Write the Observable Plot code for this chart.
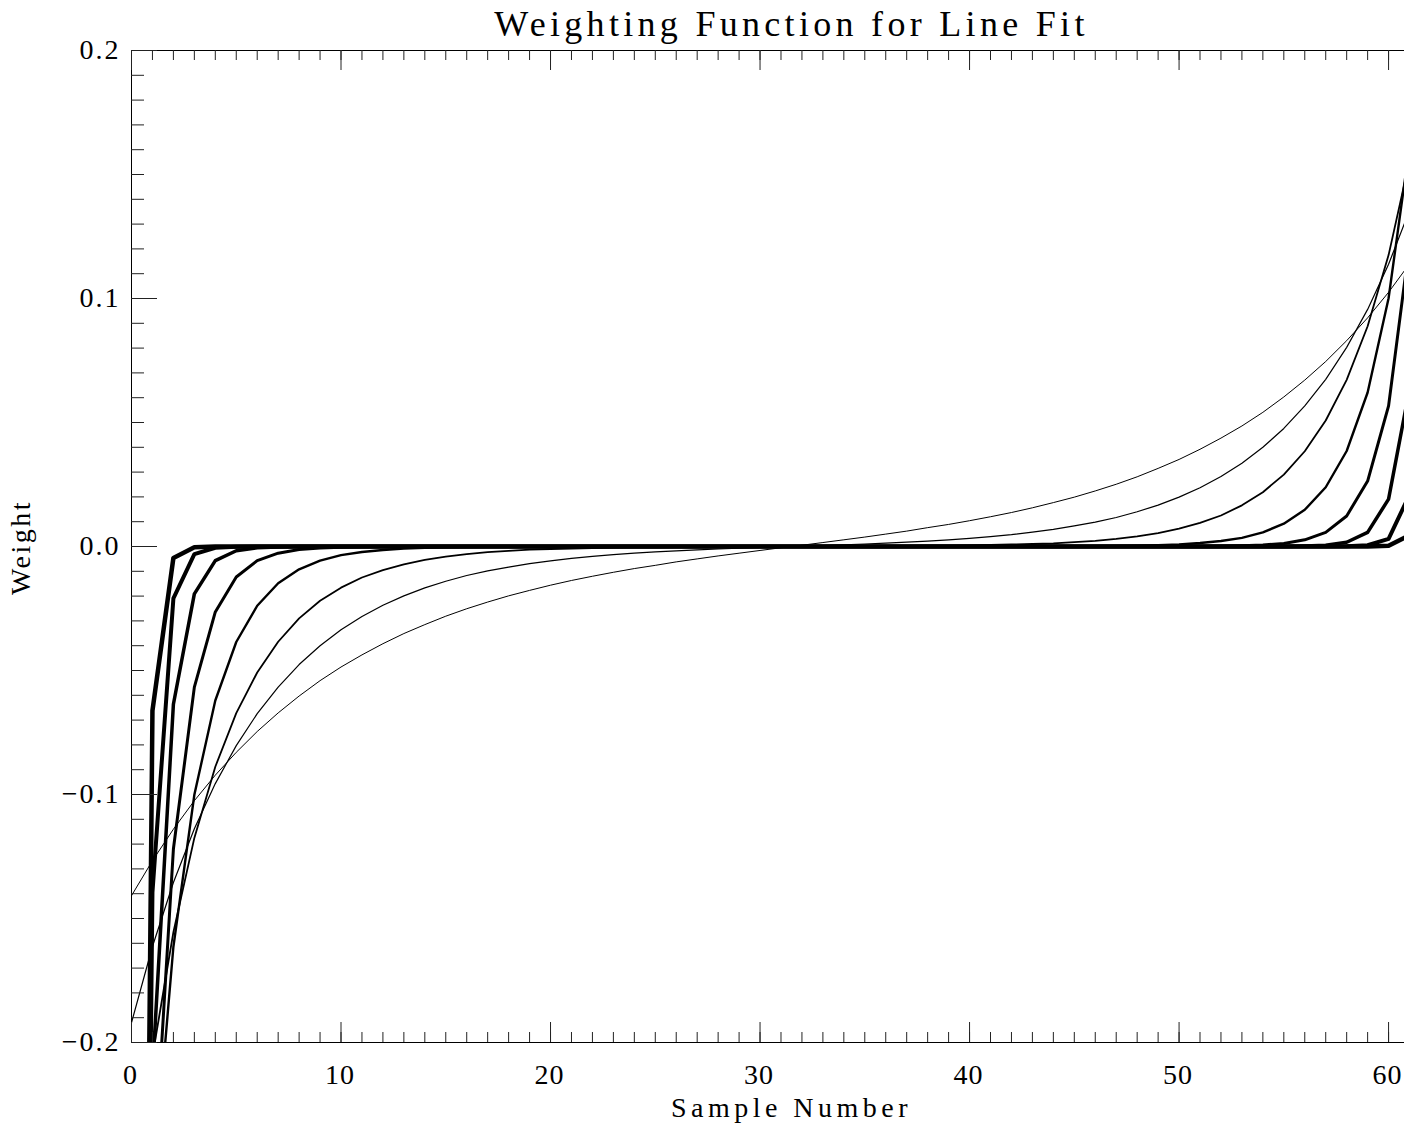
<!DOCTYPE html>
<html>
<head>
<meta charset="utf-8">
<script src="https://cdn.jsdelivr.net/npm/d3@7"></script>
<script src="https://cdn.jsdelivr.net/npm/@observablehq/plot@0.6"></script>
<style>
  html, body { margin: 0; padding: 0; background: #ffffff; }
  #chart svg { display: block; }
</style>
</head>
<body>
<div id="chart"></div>
<script>
// ---- data ----
const sampleNumber = [
  0, 1, 2, 3, 4, 5, 6, 7,
  8, 9, 10, 11, 12, 13, 14, 15,
  16, 17, 18, 19, 20, 21, 22, 23,
  24, 25, 26, 27, 28, 29, 30, 31,
  32, 33, 34, 35, 36, 37, 38, 39,
  40, 41, 42, 43, 44, 45, 46, 47,
  48, 49, 50, 51, 52, 53, 54, 55,
  56, 57, 58, 59, 60, 61, 62, 63
];

const weight1 = [
  -0.96, -0.0662, -0.0046, -0.0003, 0, 0, 0, 0,
  0, 0, 0, 0, 0, 0, 0, 0,
  0, 0, 0, 0, 0, 0, 0, 0,
  0, 0, 0, 0, 0, 0, 0, 0,
  0, 0, 0, 0, 0, 0, 0, 0,
  0, 0, 0, 0, 0, 0, 0, 0,
  0, 0, 0, 0, 0, 0, 0, 0,
  0, 0, 0, 0, 0.0003, 0.0046, 0.0662, 0.96
];

const weight2 = [
  -0.93, -0.1395, -0.0209, -0.0031, -0.0005, -0.0001, 0, 0,
  0, 0, 0, 0, 0, 0, 0, 0,
  0, 0, 0, 0, 0, 0, 0, 0,
  0, 0, 0, 0, 0, 0, 0, 0,
  0, 0, 0, 0, 0, 0, 0, 0,
  0, 0, 0, 0, 0, 0, 0, 0,
  0, 0, 0, 0, 0, 0, 0, 0,
  0, 0, 0.0001, 0.0005, 0.0031, 0.0209, 0.1395, 0.93
];

const weight3 = [
  -0.707, -0.2121, -0.0636, -0.0191, -0.0057, -0.0017, -0.0005, -0.0002,
  0, 0, 0, 0, 0, 0, 0, 0,
  0, 0, 0, 0, 0, 0, 0, 0,
  0, 0, 0, 0, 0, 0, 0, 0,
  0, 0, 0, 0, 0, 0, 0, 0,
  0, 0, 0, 0, 0, 0, 0, 0,
  0, 0, 0, 0, 0, 0, 0, 0,
  0.0002, 0.0005, 0.0017, 0.0057, 0.0191, 0.0636, 0.2121, 0.707
];

const weight4 = [
  -0.564, -0.2623, -0.122, -0.0567, -0.0264, -0.0123, -0.0057, -0.0027,
  -0.0012, -0.0006, -0.0003, -0.0001, 0, 0, 0, 0,
  0, 0, 0, 0, 0, 0, 0, 0,
  0, 0, 0, 0, 0, 0, 0, 0,
  0, 0, 0, 0, 0, 0, 0, 0,
  0, 0, 0, 0, 0, 0, 0, 0,
  0, 0, 0, 0, 0.0001, 0.0003, 0.0006, 0.0012,
  0.0027, 0.0057, 0.0123, 0.0264, 0.0567, 0.122, 0.2623, 0.564
];

const weight5 = [
  -0.42, -0.2604, -0.1614, -0.1001, -0.0621, -0.0385, -0.0239, -0.0148,
  -0.0092, -0.0057, -0.0035, -0.0022, -0.0014, -0.0008, -0.0005, -0.0003,
  -0.0002, -0.0001, -0.0001, 0, 0, 0, 0, 0,
  0, 0, 0, 0, 0, 0, 0, 0,
  0, 0, 0, 0, 0, 0, 0, 0,
  0, 0, 0, 0, 0, 0.0001, 0.0001, 0.0002,
  0.0003, 0.0005, 0.0008, 0.0014, 0.0022, 0.0035, 0.0057, 0.0092,
  0.0148, 0.0239, 0.0385, 0.0621, 0.1001, 0.1614, 0.2604, 0.42
];

const weight6 = [
  -0.272, -0.2056, -0.1555, -0.1175, -0.0888, -0.0672, -0.0508, -0.0384,
  -0.029, -0.0219, -0.0166, -0.0125, -0.0095, -0.0072, -0.0054, -0.0041,
  -0.0031, -0.0023, -0.0018, -0.0013, -0.001, -0.0008, -0.0006, -0.0004,
  -0.0003, -0.0003, -0.0002, -0.0001, -0.0001, -0.0001, 0, 0,
  0, 0, 0.0001, 0.0001, 0.0001, 0.0002, 0.0003, 0.0003,
  0.0004, 0.0006, 0.0008, 0.001, 0.0013, 0.0018, 0.0023, 0.0031,
  0.0041, 0.0054, 0.0072, 0.0095, 0.0125, 0.0166, 0.0219, 0.029,
  0.0384, 0.0508, 0.0672, 0.0888, 0.1175, 0.1555, 0.2056, 0.272
];

const weight7 = [
  -0.192, -0.1613, -0.1355, -0.1138, -0.0956, -0.0803, -0.0674, -0.0567,
  -0.0476, -0.04, -0.0336, -0.0282, -0.0237, -0.0199, -0.0167, -0.014,
  -0.0117, -0.0098, -0.0083, -0.0069, -0.0058, -0.0048, -0.004, -0.0033,
  -0.0027, -0.0022, -0.0018, -0.0014, -0.001, -0.0007, -0.0004, -0.0001,
  0.0001, 0.0004, 0.0007, 0.001, 0.0014, 0.0018, 0.0022, 0.0027,
  0.0033, 0.004, 0.0048, 0.0058, 0.0069, 0.0083, 0.0098, 0.0117,
  0.014, 0.0167, 0.0199, 0.0237, 0.0282, 0.0336, 0.04, 0.0476,
  0.0567, 0.0674, 0.0803, 0.0956, 0.1138, 0.1355, 0.1613, 0.192
];

const weight8 = [
  -0.1408, -0.1267, -0.114, -0.1025, -0.0922, -0.083, -0.0746, -0.0671,
  -0.0603, -0.0541, -0.0486, -0.0437, -0.0392, -0.0351, -0.0315, -0.0281,
  -0.0251, -0.0224, -0.0199, -0.0177, -0.0156, -0.0137, -0.012, -0.0104,
  -0.0089, -0.0076, -0.0062, -0.005, -0.0038, -0.0027, -0.0016, -0.0005,
  0.0005, 0.0016, 0.0027, 0.0038, 0.005, 0.0062, 0.0076, 0.0089,
  0.0104, 0.012, 0.0137, 0.0156, 0.0177, 0.0199, 0.0224, 0.0251,
  0.0281, 0.0315, 0.0351, 0.0392, 0.0437, 0.0486, 0.0541, 0.0603,
  0.0671, 0.0746, 0.083, 0.0922, 0.1025, 0.114, 0.1267, 0.1408
];

const xTickLabels = [0, 10, 20, 30, 40, 50, 60];
const yTickLabels = [-0.2, -0.1, 0.0, 0.1, 0.2];
const titleText = "Weighting Function for Line Fit";
const xLabelText = "Sample Number";
const yLabelText = "Weight";

// ---- layout / styles ----
const W = 1404, H = 1129;
const mL = 131, mR = 0, mT = 50, mB = 87;
const frameW = W - mL - mR, frameH = H - mT - mB;
const seriesList = [weight1, weight2, weight3, weight4, weight5, weight6, weight7, weight8];
const lineWidths = [4.5, 4, 3.5, 3, 2.4, 1.8, 1.2, 1];

const xMinor = d3.range(0, 61, 1);
const yMinor = d3.range(-20, 21, 1).map(d => d / 100);

const lineMarks = seriesList.map((vals, k) =>
  Plot.line(sampleNumber.map((x, i) => ({x, y: vals[i]})), {
    x: "x", y: "y", stroke: "black", strokeWidth: lineWidths[k],
    strokeLinejoin: "round", clip: true
  })
);

const chart = Plot.plot({
  width: W, height: H,
  marginLeft: mL, marginRight: mR, marginTop: mT, marginBottom: mB,
  style: {fontFamily: "'Liberation Serif', serif", fontSize: "28px", background: "#fff", color: "#000"},
  x: {domain: [0, 60.76], axis: null},
  y: {domain: [-0.2, 0.2], axis: null},
  marks: [
    ...lineMarks,
    // frame (left, bottom, top)
    Plot.ruleX([0], {stroke: "black", strokeWidth: 1}),
    Plot.ruleY([-0.2, 0.2], {stroke: "black", strokeWidth: 1}),
    // x ticks, bottom (inward) and top (inward)
    Plot.tickX(xMinor, {x: d => d, stroke: "#222", insetTop: frameH - 10}),
    Plot.tickX(xTickLabels, {x: d => d, stroke: "#222", insetTop: frameH - 20}),
    Plot.tickX(xMinor, {x: d => d, stroke: "#222", insetBottom: frameH - 10}),
    Plot.tickX(xTickLabels, {x: d => d, stroke: "#222", insetBottom: frameH - 20}),
    // y ticks, left (inward)
    Plot.tickY(yMinor, {y: d => d, stroke: "#222", insetRight: frameW - 13}),
    Plot.tickY(yTickLabels, {y: d => d, stroke: "#222", insetRight: frameW - 26}),
    // tick labels
    Plot.axisX(xTickLabels, {anchor: "bottom", tickSize: 0, tickPadding: 22, tickFormat: d => String(d), label: null, fontSize: 28, dx: -1}),
    Plot.axisY(yTickLabels, {anchor: "left", tickSize: 0, tickPadding: 11, tickFormat: d3.format(".1f"), label: null, fontSize: 28}),
    // titles
    Plot.text([titleText], {text: d => d, frameAnchor: "top", textAnchor: "middle", lineAnchor: "bottom", dx: 23.5, dy: -15, fontSize: 36}),
    Plot.text([xLabelText], {text: d => d, frameAnchor: "bottom", textAnchor: "middle", lineAnchor: "bottom", dx: 23.5, dy: 74, fontSize: 28}),
    Plot.text([yLabelText], {text: d => d, frameAnchor: "left", textAnchor: "middle", lineAnchor: "bottom", rotate: -90, dx: -102, dy: 1, fontSize: 28})
  ]
});

// letter spacing to mimic the wide stroked font of the original
const spacing = new Map([[titleText, "4.3px"], [xLabelText, "4.5px"], [yLabelText, "2.5px"]]);
const xLabelSet = new Set(xTickLabels.map(String));
d3.select(chart).selectAll("text").each(function() {
  const t = this.textContent;
  this.style.letterSpacing = spacing.get(t) || (xLabelSet.has(t) ? "1px" : "2px");
});

document.getElementById("chart").appendChild(chart);
</script>
</body>
</html>
